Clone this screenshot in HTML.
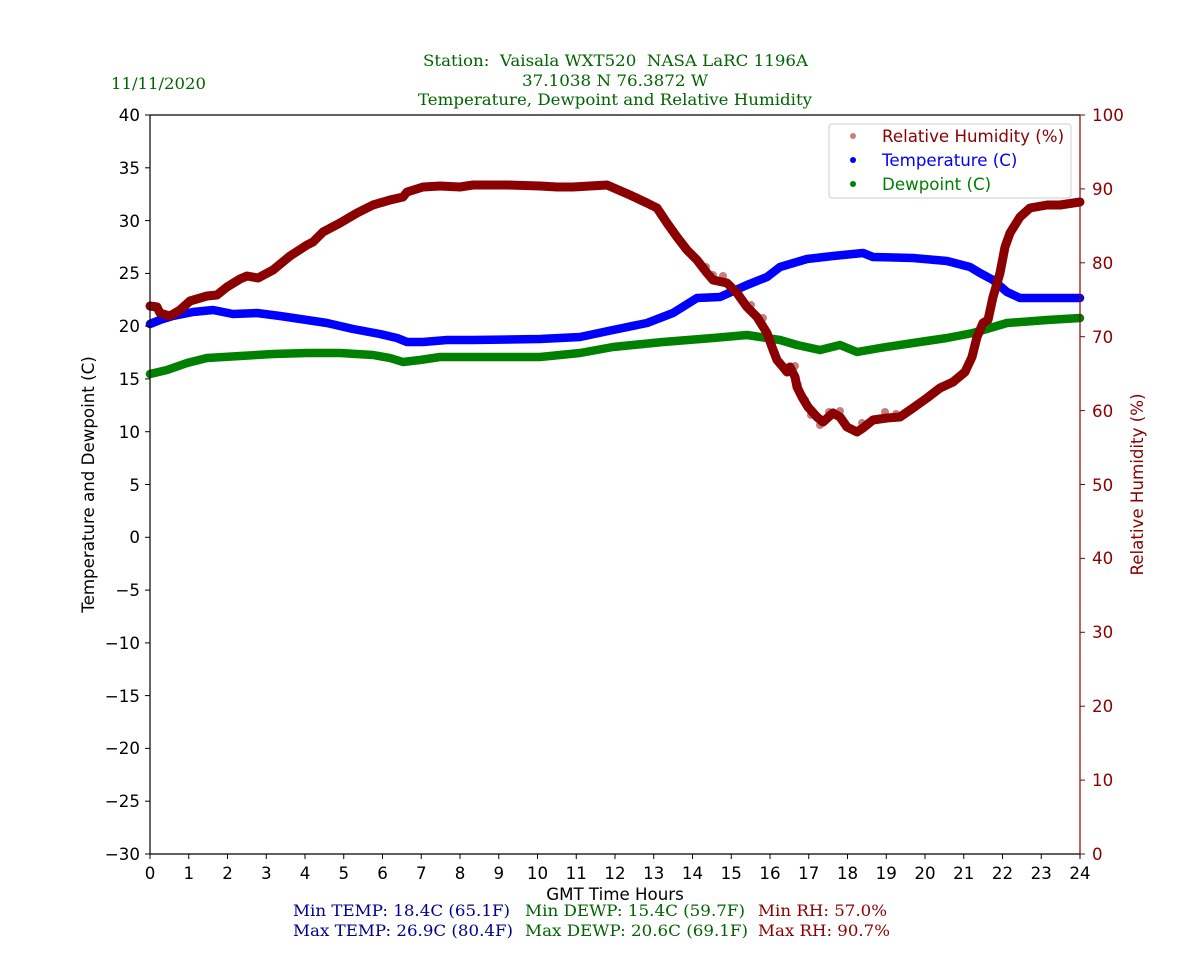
<!DOCTYPE html>
<html><head><meta charset="utf-8">
<style>
html,body{margin:0;padding:0;background:#fff;}
svg{display:block;}
.tk{font-family:"DejaVu Sans","Liberation Sans",sans-serif;font-size:16.67px;}
.sr{font-family:"DejaVu Serif","Liberation Serif",serif;font-size:16px;white-space:pre;}
</style></head>
<body>
<svg width="1200" height="960" viewBox="0 0 1200 960" xmlns="http://www.w3.org/2000/svg">
<rect width="1200" height="960" fill="#fff"/>

<!-- Titles -->
<g class="sr" fill="#006400">
<text x="423" y="66" textLength="385" lengthAdjust="spacingAndGlyphs" xml:space="preserve">Station:  Vaisala WXT520  NASA LaRC 1196A</text>
<text x="522" y="86" textLength="186" lengthAdjust="spacingAndGlyphs">37.1038 N 76.3872 W</text>
<text x="418" y="105" textLength="394" lengthAdjust="spacingAndGlyphs">Temperature, Dewpoint and Relative Humidity</text>
<text x="111" y="89" textLength="95" lengthAdjust="spacingAndGlyphs">11/11/2020</text>
</g>

<!-- Series -->
<g fill="none" stroke-linecap="round" stroke-linejoin="round">
<polyline stroke="#0000ff" stroke-width="8.5" points="150,324 160,320 173,316 193,312 213,310 233,314 257,313 280,316 307,320 327,323 353,329 380,334 397,338 407,342 423,342 447,340 473,340 540,339 580,337 613,330 647,323 673,313 697,298 720,297 747,285 767,277 780,267 807,259 833,256 863,253 873,257 913,258 947,261 970,267 980,273 993,280 1007,292 1020,298 1080,298"/>
<polyline stroke="#008000" stroke-width="8.5" points="150,374 167,370 187,363 207,358 240,356 273,354 307,353 340,353 373,355 390,358 403,362 420,360 440,357 473,357 540,357 580,353 613,347 663,342 713,338 747,335 780,340 797,345 820,350 840,345 857,352 880,348 913,343 947,338 973,333 1007,323 1047,320 1080,318"/>
<polyline stroke="#8b0000" stroke-width="9" points="150,306 157,307 160,313 170,316 180,310 190,301 207,296 217,295 227,287 240,279 247,276 258,278 273,270 290,256 307,245 313,242 323,232 340,223 357,213 373,205 390,200 403,197 407,192 423,187 440,186 460,187 473,185 507,185 540,186 557,187 573,187 607,185 630,195 647,203 657,208 667,223 677,237 687,250 697,260 707,273 713,280 727,283 737,293 747,307 757,317 767,333 772,347 777,360 783,367 787,372 790,367 795,377 797,387 802,397 808,407 817,417 823,422 833,413 840,417 847,427 857,432 863,428 873,420 887,418 900,417 913,408 927,398 940,388 953,382 965,372 972,357 977,337 983,323 988,320 993,297 1000,273 1005,247 1010,233 1020,217 1030,208 1047,205 1060,205 1080,202"/>
</g>
<g fill="#8b0000" fill-opacity="0.5">
<circle cx="706" cy="267" r="4"/><circle cx="713" cy="275" r="4"/><circle cx="723" cy="276" r="4"/>
<circle cx="751" cy="305" r="4"/><circle cx="763" cy="318" r="4"/><circle cx="795" cy="366" r="4"/>
<circle cx="798" cy="385" r="4"/><circle cx="805" cy="400" r="4"/><circle cx="811" cy="415" r="4"/>
<circle cx="820" cy="425" r="4"/><circle cx="829" cy="412" r="4"/><circle cx="840" cy="411" r="4"/>
<circle cx="862" cy="423" r="4"/><circle cx="885" cy="412" r="4"/><circle cx="896" cy="414" r="4"/>
</g>

<!-- Axes spines -->
<line x1="150" y1="115" x2="1080" y2="115" stroke="#000" stroke-width="1.2"/>
<line x1="150" y1="115" x2="150" y2="854" stroke="#000" stroke-width="1.2"/>
<line x1="150" y1="854" x2="1080" y2="854" stroke="#000" stroke-width="1.2"/>
<line x1="1080" y1="115" x2="1080" y2="854" stroke="#8b0000" stroke-width="1.2"/>

<!-- Left ticks -->
<g stroke="#000" stroke-width="1">
<line x1="145" y1="115" x2="150" y2="115"/><line x1="145" y1="167.8" x2="150" y2="167.8"/>
<line x1="145" y1="220.6" x2="150" y2="220.6"/><line x1="145" y1="273.4" x2="150" y2="273.4"/>
<line x1="145" y1="326.1" x2="150" y2="326.1"/><line x1="145" y1="378.9" x2="150" y2="378.9"/>
<line x1="145" y1="431.7" x2="150" y2="431.7"/><line x1="145" y1="484.5" x2="150" y2="484.5"/>
<line x1="145" y1="537.3" x2="150" y2="537.3"/><line x1="145" y1="590.1" x2="150" y2="590.1"/>
<line x1="145" y1="642.9" x2="150" y2="642.9"/><line x1="145" y1="695.6" x2="150" y2="695.6"/>
<line x1="145" y1="748.4" x2="150" y2="748.4"/><line x1="145" y1="801.2" x2="150" y2="801.2"/>
<line x1="145" y1="854" x2="150" y2="854"/>
</g>
<g class="tk" fill="#000" text-anchor="end">
<text x="140" y="121">40</text><text x="140" y="174">35</text><text x="140" y="227">30</text>
<text x="140" y="279">25</text><text x="140" y="332">20</text><text x="140" y="385">15</text>
<text x="140" y="438">10</text><text x="140" y="491">5</text><text x="140" y="543">0</text>
<text x="140" y="596">−5</text><text x="140" y="649">−10</text><text x="140" y="702">−15</text>
<text x="140" y="754">−20</text><text x="140" y="807">−25</text><text x="140" y="860">−30</text>
</g>
<text class="tk" transform="translate(94,484.5) rotate(-90)" text-anchor="middle" fill="#000">Temperature and Dewpoint (C)</text>

<!-- Right ticks -->
<g stroke="#8b0000" stroke-width="1">
<line x1="1080" y1="115" x2="1085" y2="115"/><line x1="1080" y1="188.9" x2="1085" y2="188.9"/>
<line x1="1080" y1="262.8" x2="1085" y2="262.8"/><line x1="1080" y1="336.7" x2="1085" y2="336.7"/>
<line x1="1080" y1="410.6" x2="1085" y2="410.6"/><line x1="1080" y1="484.5" x2="1085" y2="484.5"/>
<line x1="1080" y1="558.4" x2="1085" y2="558.4"/><line x1="1080" y1="632.3" x2="1085" y2="632.3"/>
<line x1="1080" y1="706.2" x2="1085" y2="706.2"/><line x1="1080" y1="780.1" x2="1085" y2="780.1"/>
<line x1="1080" y1="854" x2="1085" y2="854"/>
</g>
<g class="tk" fill="#8b0000">
<text x="1092" y="121">100</text><text x="1092" y="195">90</text><text x="1092" y="269">80</text>
<text x="1092" y="343">70</text><text x="1092" y="417">60</text><text x="1092" y="491">50</text>
<text x="1092" y="564">40</text><text x="1092" y="638">30</text><text x="1092" y="712">20</text>
<text x="1092" y="786">10</text><text x="1092" y="860">0</text>
</g>
<text class="tk" transform="translate(1143,484.5) rotate(-90)" text-anchor="middle" fill="#8b0000">Relative Humidity (%)</text>

<!-- Bottom ticks -->
<g stroke="#000" stroke-width="1">
<line x1="150" y1="854" x2="150" y2="859"/><line x1="188.75" y1="854" x2="188.75" y2="859"/>
<line x1="227.5" y1="854" x2="227.5" y2="859"/><line x1="266.25" y1="854" x2="266.25" y2="859"/>
<line x1="305" y1="854" x2="305" y2="859"/><line x1="343.75" y1="854" x2="343.75" y2="859"/>
<line x1="382.5" y1="854" x2="382.5" y2="859"/><line x1="421.25" y1="854" x2="421.25" y2="859"/>
<line x1="460" y1="854" x2="460" y2="859"/><line x1="498.75" y1="854" x2="498.75" y2="859"/>
<line x1="537.5" y1="854" x2="537.5" y2="859"/><line x1="576.25" y1="854" x2="576.25" y2="859"/>
<line x1="615" y1="854" x2="615" y2="859"/><line x1="653.75" y1="854" x2="653.75" y2="859"/>
<line x1="692.5" y1="854" x2="692.5" y2="859"/><line x1="731.25" y1="854" x2="731.25" y2="859"/>
<line x1="770" y1="854" x2="770" y2="859"/><line x1="808.75" y1="854" x2="808.75" y2="859"/>
<line x1="847.5" y1="854" x2="847.5" y2="859"/><line x1="886.25" y1="854" x2="886.25" y2="859"/>
<line x1="925" y1="854" x2="925" y2="859"/><line x1="963.75" y1="854" x2="963.75" y2="859"/>
<line x1="1002.5" y1="854" x2="1002.5" y2="859"/><line x1="1041.25" y1="854" x2="1041.25" y2="859"/>
<line x1="1080" y1="854" x2="1080" y2="859"/>
</g>
<g class="tk" fill="#000" text-anchor="middle">
<text x="150" y="879">0</text><text x="188.75" y="879">1</text><text x="227.5" y="879">2</text>
<text x="266.25" y="879">3</text><text x="305" y="879">4</text><text x="343.75" y="879">5</text>
<text x="382.5" y="879">6</text><text x="421.25" y="879">7</text><text x="460" y="879">8</text>
<text x="498.75" y="879">9</text><text x="537.5" y="879">10</text><text x="576.25" y="879">11</text>
<text x="615" y="879">12</text><text x="653.75" y="879">13</text><text x="692.5" y="879">14</text>
<text x="731.25" y="879">15</text><text x="770" y="879">16</text><text x="808.75" y="879">17</text>
<text x="847.5" y="879">18</text><text x="886.25" y="879">19</text><text x="925" y="879">20</text>
<text x="963.75" y="879">21</text><text x="1002.5" y="879">22</text><text x="1041.25" y="879">23</text>
<text x="1080" y="879">24</text>
</g>
<text class="tk" x="615" y="900" text-anchor="middle" fill="#000">GMT Time Hours</text>

<!-- Stats -->
<g class="sr">
<text x="293" y="916" fill="#00008b" textLength="217" lengthAdjust="spacingAndGlyphs">Min TEMP: 18.4C (65.1F)</text>
<text x="293" y="936" fill="#00008b" textLength="220" lengthAdjust="spacingAndGlyphs">Max TEMP: 26.9C (80.4F)</text>
<text x="525" y="916" fill="#006400" textLength="220" lengthAdjust="spacingAndGlyphs">Min DEWP: 15.4C (59.7F)</text>
<text x="525" y="936" fill="#006400" textLength="223" lengthAdjust="spacingAndGlyphs">Max DEWP: 20.6C (69.1F)</text>
<text x="758" y="916" fill="#8b0000" textLength="129" lengthAdjust="spacingAndGlyphs">Min RH: 57.0%</text>
<text x="758" y="936" fill="#8b0000" textLength="132" lengthAdjust="spacingAndGlyphs">Max RH: 90.7%</text>
</g>

<!-- Legend -->
<rect x="829" y="124" width="242" height="74" rx="3" ry="3" fill="#fff" fill-opacity="0.8" stroke="#cccccc" stroke-width="1"/>
<circle cx="853" cy="136" r="3" fill="#8b0000" fill-opacity="0.5"/>
<circle cx="853" cy="160" r="3" fill="#0000ff"/>
<circle cx="853" cy="184" r="3" fill="#008000"/>
<g class="tk">
<text x="882" y="142" fill="#8b0000">Relative Humidity (%)</text>
<text x="882" y="166" fill="#0000ff">Temperature (C)</text>
<text x="882" y="190" fill="#008000">Dewpoint (C)</text>
</g>
</svg>
</body></html>
